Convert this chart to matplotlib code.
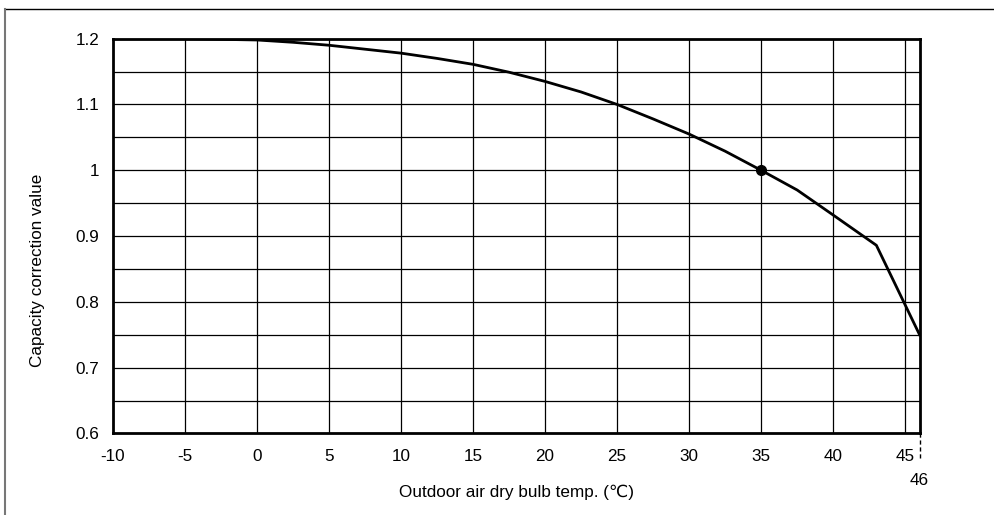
import matplotlib.pyplot as plt
from matplotlib.lines import Line2D
from matplotlib.transforms import blended_transform_factory

plt.rcParams['font.family'] = ['Liberation Sans', 'DejaVu Sans']
plt.rcParams['axes.unicode_minus'] = False

# Capacity correction curve
temp = [-10, -5, 0, 2.5, 5, 7.5, 10, 12.5, 15, 17.5, 20, 22.5, 25, 27.5, 30, 32.5, 35, 37.5, 40, 43, 46]
capacity = [1.2, 1.2, 1.198, 1.1945, 1.190, 1.184, 1.178, 1.170, 1.161, 1.149, 1.135, 1.119, 1.1,
            1.078, 1.055, 1.029, 1.0, 0.970, 0.932, 0.886, 0.75]

rated_temp = 35
rated_value = 1.0

x_ticks = [-10, -5, 0, 5, 10, 15, 20, 25, 30, 35, 40, 45]
y_ticks = [0.6, 0.7, 0.8, 0.9, 1.0, 1.1, 1.2]
y_tick_labels = ['0.6', '0.7', '0.8', '0.9', '1', '1.1', '1.2']
y_grid = [0.65, 0.7, 0.75, 0.8, 0.85, 0.9, 0.95, 1.0, 1.05, 1.1, 1.15]
x_grid = [-5, 0, 5, 10, 15, 20, 25, 30, 35, 40, 45]
x_max = 46

fs = 12.3

fig = plt.figure(figsize=(9.95, 5.15), dpi=100)
ax = fig.add_axes([0.1136, 0.1583, 0.8106, 0.7666])

# grid
for gx in x_grid:
    ax.axvline(gx, color='black', lw=0.9, zorder=1)
for gy in y_grid:
    ax.axhline(gy, color='black', lw=0.9, zorder=1)

ax.plot(temp, capacity, color='black', lw=2.0, zorder=3, solid_joinstyle='round')
ax.plot([rated_temp], [rated_value], 'o', color='black', ms=7, zorder=4)

ax.set_xlim(-10, x_max)
ax.set_ylim(0.6, 1.2)
ax.set_xticks(x_ticks)
ax.set_yticks(y_ticks)
ax.set_yticklabels(y_tick_labels)
ax.tick_params(axis='x', length=0, pad=11, labelsize=fs)
ax.tick_params(axis='y', length=0, pad=10, labelsize=fs)
for s in ax.spines.values():
    s.set_linewidth(2)

# dashed extension at 46 and its label
ax.plot([x_max, x_max], [0.6, 0.56], color='black', lw=1, ls=(0, (3, 2)), clip_on=False)
trans = blended_transform_factory(ax.transData, ax.transAxes)
ax.text(x_max, -0.12, '46', transform=trans, ha='center', va='center', fontsize=fs)

fig.text(517 / 995, 1 - 492 / 515, 'Outdoor air dry bulb temp. (℃)', ha='center', va='center', fontsize=fs)
fig.text(38 / 995, 1 - 270 / 515, 'Capacity correction value', ha='center', va='center', rotation=90, fontsize=fs)

# outer frame lines
fig.add_artist(Line2D([5 / 995, 1], [1 - 9 / 515, 1 - 9 / 515], color='black', lw=1))
fig.add_artist(Line2D([5 / 995, 5 / 995], [0, 1 - 9 / 515], color='#777777', lw=1.5))

fig.savefig('out.png', dpi=100)
